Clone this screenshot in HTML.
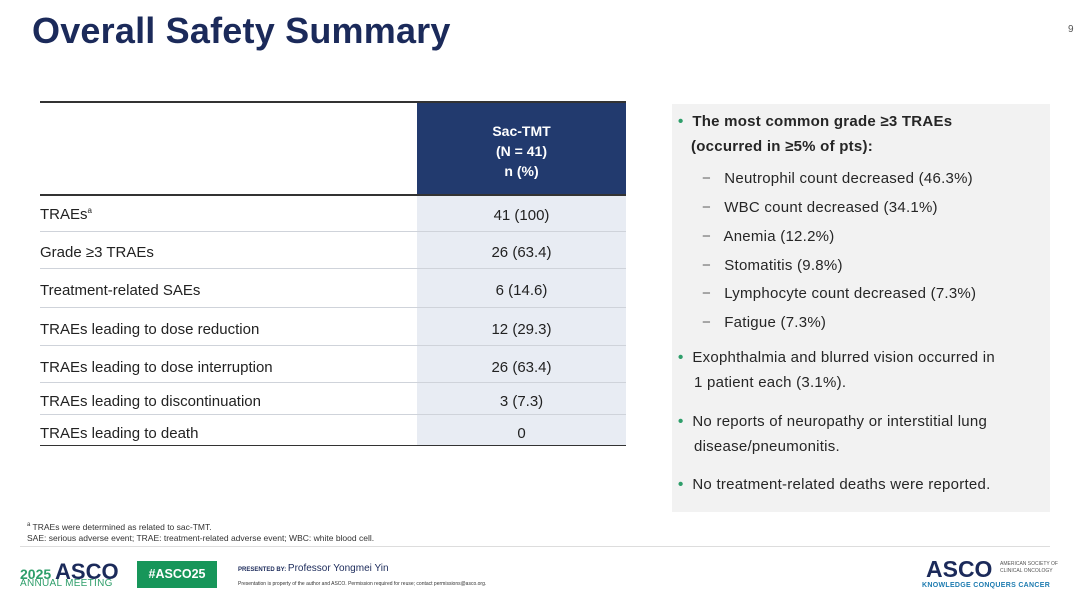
<!DOCTYPE html>
<html><head><meta charset="utf-8"><style>
body{margin:0;width:1080px;height:608px;background:#fff;position:relative;font-family:"Liberation Sans",Arial,sans-serif;overflow:hidden}
.a{position:absolute;white-space:nowrap}
.t{font-size:15px;color:#222}
.row{position:absolute;left:40px;width:586px;border-bottom:1px solid #cfd3da}
.val{position:absolute;left:417px;width:209px;background:#e8ecf3}
.r{font-size:15px;color:#262626;letter-spacing:0.25px}
.blt{color:#2e9e6a;font-weight:bold}
.d{color:#666}
</style></head><body>
<div class="a" style="left:32px;top:10px;font-size:36px;font-weight:bold;color:#1b2a5a;letter-spacing:0.2px">Overall Safety Summary</div>
<div class="a" style="left:1068px;top:24px;font-size:10px;color:#555">9</div>

<div class="a" style="left:40px;top:101px;width:586px;height:2px;background:#333"></div>
<div class="a" style="left:417px;top:103px;width:209px;height:92px;background:#223a6e;color:#fff;font-weight:bold;font-size:14px;text-align:center;line-height:20px;padding-top:18px;box-sizing:border-box">Sac-TMT<br>(N = 41)<br>n (%)</div>
<div class="a" style="left:40px;top:194px;width:586px;height:2px;background:#333"></div>
<div class="val" style="top:196px;height:249px"></div>

<div class="row" style="top:196px;height:35px"></div>
<div class="row" style="top:231px;height:37px"></div>
<div class="row" style="top:268px;height:39px"></div>
<div class="row" style="top:307px;height:38px"></div>
<div class="row" style="top:345px;height:37px"></div>
<div class="row" style="top:382px;height:32px"></div>
<div class="a" style="left:40px;top:445px;width:586px;height:1px;background:#333"></div>

<div class="a t" style="left:40px;top:206px">TRAEs<sup style="font-size:8px">a</sup></div><div class="a t" style="left:417px;width:209px;text-align:center;top:207px">41 (100)</div>
<div class="a t" style="left:40px;top:244px">Grade ≥3 TRAEs</div><div class="a t" style="left:417px;width:209px;text-align:center;top:244px">26 (63.4)</div>
<div class="a t" style="left:40px;top:282px">Treatment-related SAEs</div><div class="a t" style="left:417px;width:209px;text-align:center;top:282px">6 (14.6)</div>
<div class="a t" style="left:40px;top:321px">TRAEs leading to dose reduction</div><div class="a t" style="left:417px;width:209px;text-align:center;top:321px">12 (29.3)</div>
<div class="a t" style="left:40px;top:359px">TRAEs leading to dose interruption</div><div class="a t" style="left:417px;width:209px;text-align:center;top:359px">26 (63.4)</div>
<div class="a t" style="left:40px;top:393px">TRAEs leading to discontinuation</div><div class="a t" style="left:417px;width:209px;text-align:center;top:393px">3 (7.3)</div>
<div class="a t" style="left:40px;top:425px">TRAEs leading to death</div><div class="a t" style="left:417px;width:209px;text-align:center;top:425px">0</div>

<div class="a" style="left:672px;top:104px;width:378px;height:408px;background:#f2f2f2"></div>
<div class="a r" style="left:678px;top:113px;font-weight:bold"><span class="blt">•</span>&nbsp; The most common grade ≥3 TRAEs</div>
<div class="a r" style="left:691px;top:138px;font-weight:bold">(occurred in ≥5% of pts):</div>
<div class="a r" style="left:702px;top:170px"><span class="d">−</span>&nbsp;&nbsp; Neutrophil count decreased (46.3%)</div>
<div class="a r" style="left:702px;top:199px"><span class="d">−</span>&nbsp;&nbsp; WBC count decreased (34.1%)</div>
<div class="a r" style="left:702px;top:228px"><span class="d">−</span>&nbsp;&nbsp; Anemia (12.2%)</div>
<div class="a r" style="left:702px;top:257px"><span class="d">−</span>&nbsp;&nbsp; Stomatitis (9.8%)</div>
<div class="a r" style="left:702px;top:285px"><span class="d">−</span>&nbsp;&nbsp; Lymphocyte count decreased (7.3%)</div>
<div class="a r" style="left:702px;top:314px"><span class="d">−</span>&nbsp;&nbsp; Fatigue (7.3%)</div>
<div class="a r" style="left:678px;top:349px"><span class="blt">•</span>&nbsp; Exophthalmia and blurred vision occurred in</div>
<div class="a r" style="left:694px;top:374px">1 patient each (3.1%).</div>
<div class="a r" style="left:678px;top:413px"><span class="blt">•</span>&nbsp; No reports of neuropathy or interstitial lung</div>
<div class="a r" style="left:694px;top:438px">disease/pneumonitis.</div>
<div class="a r" style="left:678px;top:476px"><span class="blt">•</span>&nbsp; No treatment-related deaths were reported.</div>

<div class="a" style="left:27px;top:520px;font-size:8.5px;color:#333;line-height:11px"><sup style="font-size:6px">a</sup> TRAEs were determined as related to sac-TMT.<br>SAE: serious adverse event; TRAE: treatment-related adverse event; WBC: white blood cell.</div>
<div class="a" style="left:20px;top:546px;width:1030px;height:1px;background:#ddd"></div>
<div class="a" style="left:20px;top:559px;font-size:14px;font-weight:bold;color:#2e9e6a">2025 <span style="color:#1b2a5a;font-size:22px">ASCO</span></div>
<div class="a" style="left:20px;top:578px;font-size:10px;color:#2e9e6a;letter-spacing:0.3px">ANNUAL MEETING</div>
<div class="a" style="left:137px;top:561px;width:80px;height:27px;background:#17965a;color:#fff;font-weight:bold;font-size:12.5px;text-align:center;line-height:27px">#ASCO25</div>
<div class="a" style="left:238px;top:563px;font-size:6px;font-weight:bold;color:#1b2a5a">PRESENTED BY: <span style="font-size:10px;font-weight:normal">Professor Yongmei Yin</span></div>
<div class="a" style="left:238px;top:581px;font-size:5px;color:#333">Presentation is property of the author and ASCO. Permission required for reuse; contact permissions@asco.org.</div>
<div class="a" style="left:926px;top:556px;font-size:23px;font-weight:bold;color:#1b2a5a">ASCO</div>
<div class="a" style="left:1000px;top:561px;font-size:5px;color:#555;line-height:7px">AMERICAN SOCIETY OF<br>CLINICAL ONCOLOGY</div>
<div class="a" style="left:922px;top:582px;font-size:7px;font-weight:bold;color:#1d7bb0;letter-spacing:0.3px">KNOWLEDGE CONQUERS CANCER</div>
</body></html>
